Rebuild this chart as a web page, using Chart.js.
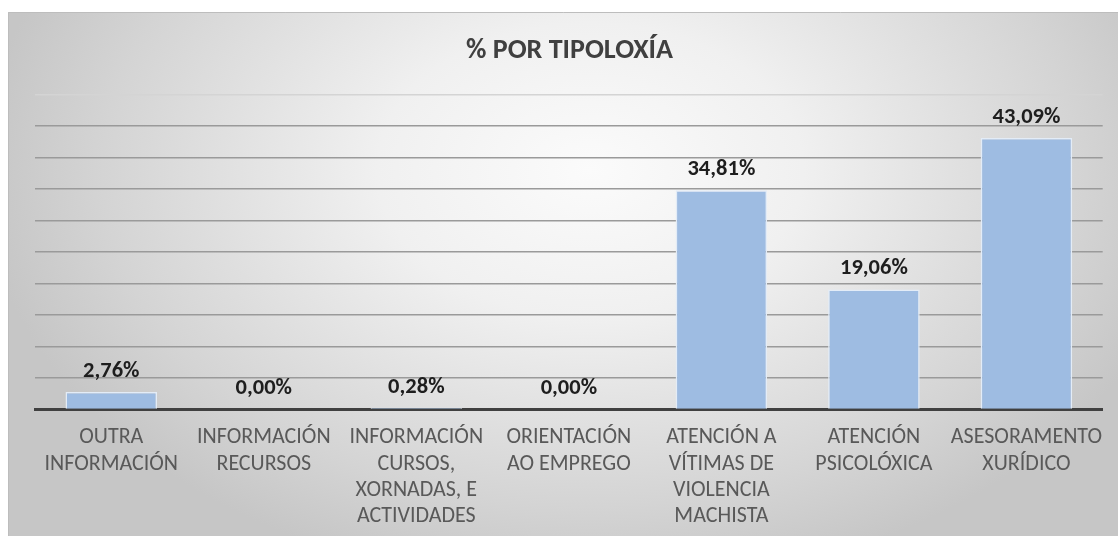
<!DOCTYPE html>
<html>
<head>
<meta charset="utf-8">
<script src="https://cdn.jsdelivr.net/npm/chart.js@4/dist/chart.umd.min.js"></script>
<style>
  html, body { margin: 0; padding: 0; background: #ffffff; }
  #wrap { position: relative; width: 1118px; height: 536px; }
</style>
</head>
<body>
<div id="wrap"><canvas id="c" width="1118" height="536"></canvas></div>
<script>
const categories = [
  ["OUTRA", "INFORMACIÓN"],
  ["INFORMACIÓN", "RECURSOS"],
  ["INFORMACIÓN", "CURSOS,", "XORNADAS, E", "ACTIVIDADES"],
  ["ORIENTACIÓN", "AO EMPREGO"],
  ["ATENCIÓN A", "VÍTIMAS DE", "VIOLENCIA", "MACHISTA"],
  ["ATENCIÓN", "PSICOLÓXICA"],
  ["ASESORAMENTO", "XURÍDICO"]
];
const percentValues = [2.76, 0.00, 0.28, 0.00, 34.81, 19.06, 43.09];
const chartTitle = "% POR TIPOLOXÍA";
const yMin = 0, yMax = 50, yStep = 5;

const FONT = "Calibri, Carlito, 'Open Sans', sans-serif";

const bgPlugin = {
  id: 'bg',
  beforeDraw(chart) {
    const ctx = chart.ctx;
    const x0 = 8, y0 = 12, x1 = chart.width, y1 = chart.height;
    ctx.save();
    ctx.fillStyle = '#ffffff';
    ctx.fillRect(0, 0, chart.width, chart.height);
    ctx.beginPath();
    ctx.rect(x0, y0, x1 - x0, y1 - y0);
    ctx.clip();
    const cx = 590, cy = 170;
    ctx.translate(cx, cy);
    ctx.scale(1.45, 1);
    const g = ctx.createRadialGradient(0, 0, 0, 0, 0, 420);
    g.addColorStop(0, '#fbfbfb');
    g.addColorStop(0.35, '#f0f0f0');
    g.addColorStop(0.8, '#d4d4d4');
    g.addColorStop(1, '#c6c6c6');
    ctx.fillStyle = g;
    ctx.fillRect(-cx / 1.45 - 10, -cy - 10, chart.width / 1.2 + 200, chart.height + 50);
    ctx.restore();
    ctx.save();
    ctx.strokeStyle = '#bdbdbd';
    ctx.lineWidth = 1;
    ctx.beginPath();
    ctx.moveTo(x0 + 0.5, y1);
    ctx.lineTo(x0 + 0.5, y0 + 0.5);
    ctx.lineTo(x1, y0 + 0.5);
    ctx.stroke();
    ctx.restore();
  }
};

const labelPlugin = {
  id: 'valueLabels',
  afterDatasetsDraw(chart) {
    const ctx = chart.ctx;
    const meta = chart.getDatasetMeta(0);
    ctx.save();
    ctx.font = "bold 22.5px " + FONT;
    ctx.fillStyle = '#1e1e1e';
    ctx.textAlign = 'center';
    ctx.textBaseline = 'alphabetic';
    meta.data.forEach((el, i) => {
      const v = chart.data.datasets[0].data[i];
      const txt = v.toFixed(2).replace('.', ',') + '%';
      ctx.fillText(txt, el.x, el.y - 15);
    });
    ctx.restore();
  }
};

new Chart(document.getElementById('c'), {
  type: 'bar',
  data: {
    labels: categories,
    datasets: [{
      data: percentValues,
      backgroundColor: '#9ebce2',
      borderColor: '#e3ecf7',
      borderWidth: 1.5,
      categoryPercentage: 1,
      barPercentage: 0.6
    }]
  },
  options: {
    responsive: false,
    animation: false,
    devicePixelRatio: 1,
    layout: { padding: { left: 35, right: 14, top: 0, bottom: -9 } },
    plugins: {
      legend: { display: false },
      tooltip: { enabled: false },
      title: {
        display: true,
        text: chartTitle,
        color: '#404040',
        font: { family: FONT, size: 28, weight: 'bold', lineHeight: 1.2 },
        padding: { top: 34, bottom: 27 }
      }
    },
    scales: {
      x: {
        grid: { display: false, drawTicks: false },
        border: { display: true, color: '#404040', width: 3 },
        ticks: {
          color: '#595959',
          font: { family: FONT, size: 22, lineHeight: 1.2 },
          padding: 15,
          maxRotation: 0,
          autoSkip: false
        }
      },
      y: {
        min: yMin,
        max: yMax,
        ticks: { display: false, stepSize: yStep },
        border: { display: false },
        grid: {
          drawTicks: false,
          lineWidth: 1.5,
          color: (c) => (c.tick && c.tick.value === yMax) ? '#d4d4d4' : '#9a9a9a'
        }
      }
    }
  },
  plugins: [bgPlugin, labelPlugin]
});
</script>
</body>
</html>
